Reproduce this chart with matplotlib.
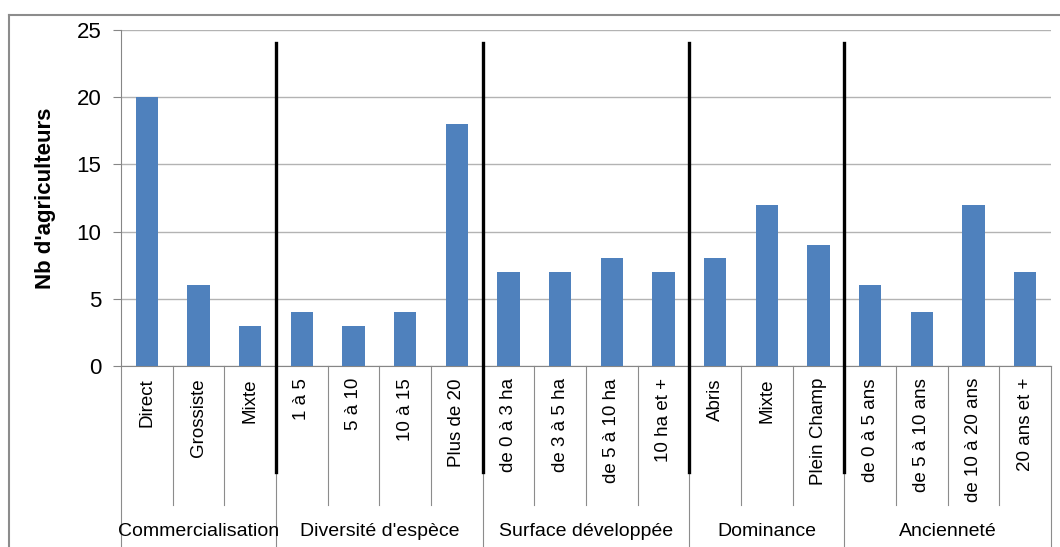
import matplotlib
matplotlib.use("Agg")
import matplotlib.pyplot as plt
from matplotlib.lines import Line2D
import numpy as np

plt.rcParams['font.family'] = ['Liberation Sans', 'DejaVu Sans']

groups = ["Commercialisation", "Diversité d'espèce", "Surface développée",
          "Dominance", "Ancienneté"]
labels = [
    ["Direct", "Grossiste", "Mixte"],
    ["1 à 5", "5 à 10", "10 à 15", "Plus de 20"],
    ["de 0 à 3 ha", "de 3 à 5 ha", "de 5 à 10 ha", "10 ha et +"],
    ["Abris", "Mixte", "Plein Champ"],
    ["de 0 à 5 ans", "de 5 à 10 ans", "de 10 à 20 ans", "20 ans et +"],
]
values = [
    [20, 6, 3],
    [4, 3, 4, 18],
    [7, 7, 8, 7],
    [8, 12, 9],
    [6, 4, 12, 7],
]

cats = [c for g in labels for c in g]
vals = [v for g in values for v in g]
n = len(cats)
x = np.arange(n)

fig = plt.figure(figsize=(10.6, 5.47), dpi=100)
ax = fig.add_axes([121 / 1060, 1 - 366 / 547, 930 / 1060, 336 / 547])

ax.bar(x, vals, width=0.43, color="#4F81BD", zorder=3)
ax.set_xlim(-0.5, n - 0.5)
ax.set_ylim(0, 25)
ax.set_yticks([0, 5, 10, 15, 20, 25])
ax.tick_params(axis='y', labelsize=16, length=6, color="#868686", pad=8)
ax.set_xticks([])
ax.grid(axis='y', color="#b3b3b3", lw=1.0, zorder=0)
ax.set_axisbelow(True)
for s in ["top", "right"]:
    ax.spines[s].set_visible(False)
ax.spines["left"].set_color("#868686")
ax.spines["bottom"].set_color("#868686")
ax.set_ylabel("Nb d'agriculteurs", fontsize=16, fontweight='bold', labelpad=15)

trans = ax.get_xaxis_transform()
gray = "#8c8c8c"

# category labels and separators
pos = 0
bounds = [-0.5]
for g, labs in zip(groups, labels):
    for i, lab in enumerate(labs):
        ax.text(pos + i, -0.036, lab, rotation=90, ha='center', va='top',
                fontsize=13.5, transform=trans)
        if i < len(labs) - 1:
            ax.plot([pos + i + 0.5] * 2, [0, -0.415], color=gray, lw=0.8,
                    transform=trans, clip_on=False)
    ax.text(pos + (len(labs) - 1) / 2, -0.494, g, ha='center', va='center',
            fontsize=14, transform=trans)
    pos += len(labs)
    bounds.append(pos - 0.5)

for b in bounds:
    ax.plot([b, b], [0, -0.55], color=gray, lw=0.8, transform=trans,
            clip_on=False)

# thick group dividers
for b in bounds[1:-1]:
    ax.plot([b, b], [24, -7.9], color="black", lw=2.4, clip_on=False, zorder=4)

# outer chart border
fig.add_artist(Line2D([8.5 / 1060, 1.0], [1 - 15 / 547] * 2, color="#8c8c8c", lw=1.5))
fig.add_artist(Line2D([8.5 / 1060] * 2, [0, 1 - 15 / 547], color="#8c8c8c", lw=1.5))

fig.savefig("out.png", dpi=100)
